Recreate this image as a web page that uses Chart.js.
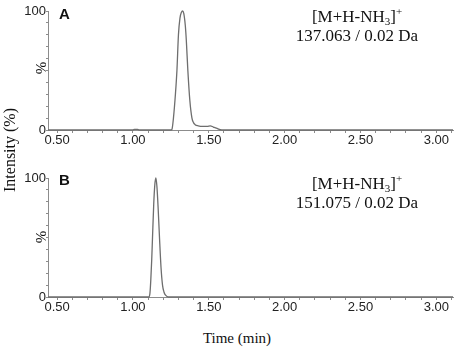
<!DOCTYPE html>
<html>
<head>
<meta charset="utf-8">
<script src="https://cdn.jsdelivr.net/npm/chart.js@4/dist/chart.umd.min.js"></script>
<style>
  body { margin: 0; background: #fff; }
  #wrap { position: relative; width: 454px; height: 350px; overflow: hidden; }
  canvas { position: absolute; left: 0; }
  .txt { position: absolute; white-space: nowrap; color: #111; }
  .serif { font-family: "Liberation Serif", "Times New Roman", serif; }
  .tag { font-family: "Liberation Sans", Arial, sans-serif; font-weight: bold; font-size: 15px; line-height: 15px; }
  .ion { font-size: 17px; line-height: 19px; text-align: center; width: 200px; }
  .ion sub { font-size: 11px; vertical-align: -3px; line-height: 0; }
  .ion sup { font-size: 11px; vertical-align: 7px; line-height: 0; }
  .rot { transform: translate(-50%, -50%) rotate(-90deg); }
</style>
</head>
<body>
<div id="wrap">
  <canvas id="chartA" width="454" height="150" style="top:0"></canvas>
  <canvas id="chartB" width="454" height="150" style="top:167px"></canvas>

  <div class="txt tag" style="left:59px; top:6px">A</div>
  <div class="txt tag" style="left:59px; top:172px">B</div>

  <div class="txt serif rot" style="left:41px; top:68px; font-size:15px">%</div>
  <div class="txt serif rot" style="left:41px; top:237px; font-size:15px">%</div>

  <div class="txt serif ion" style="left:257px; top:7px">[M+H-NH<sub>3</sub>]<sup>+</sup><br>137.063 / 0.02 Da</div>
  <div class="txt serif ion" style="left:257px; top:174px">[M+H-NH<sub>3</sub>]<sup>+</sup><br>151.075 / 0.02 Da</div>

  <div class="txt serif rot" style="left:10px; top:150px; font-size:16px">Intensity (%)</div>
  <div class="txt serif" style="left:237px; top:338px; font-size:15px; transform: translate(-50%, -50%)">Time (min)</div>
</div>

<script>
// panel A: m/z 137.063 trace
const timesA = [0.44, 1.00, 1.01, 1.03, 1.04, 1.25, 1.257, 1.267, 1.28, 1.29, 1.30, 1.31, 1.32, 1.327,
  1.335, 1.345, 1.352, 1.362, 1.375, 1.389, 1.40, 1.41, 1.43, 1.46, 1.49, 1.51, 1.53, 1.55, 1.586, 3.11];
const intensA = [0, 0, 0.6, 0.6, 0, 0, 0.5, 10, 30, 50, 80, 94, 99, 100,
  98, 88, 75, 50, 25, 10, 6, 4.5, 3.5, 3, 3, 3.5, 2.5, 1.5, 0, 0];

// panel B: m/z 151.075 trace
const timesB = [0.44, 1.105, 1.112, 1.118, 1.124, 1.129, 1.137, 1.144, 1.151, 1.158, 1.166,
  1.175, 1.185, 1.195, 1.205, 1.215, 1.234, 3.11];
const intensB = [0, 0, 3, 15, 32, 50, 78, 94, 100, 93, 75,
  50, 25, 10, 4, 1.5, 0, 0];

const xTickValues = [0.5, 1.0, 1.5, 2.0, 2.5, 3.0];
const xTickLabels = ['0.50', '1.00', '1.50', '2.00', '2.50', '3.00'];
const yTickValues = [0, 100];
const yTickLabels = ['0', '100'];

const axisGray = '#8c8c8c';
const tickFont = { family: 'Liberation Sans, Arial, sans-serif', size: 13 };

function minorTicks(from, to, step) {
  const out = [];
  for (let v = from; v <= to + 1e-9; v += step) out.push({ value: Math.round(v * 1000) / 1000 });
  return out;
}

function makeChart(id, times, values) {
  const pts = times.map((t, i) => ({ x: t, y: values[i] }));
  return new Chart(document.getElementById(id), {
    type: 'line',
    data: {
      datasets: [{
        data: pts,
        borderColor: '#6e6e6e',
        borderWidth: 1.3,
        pointRadius: 0,
        cubicInterpolationMode: 'monotone',
        fill: false,
        clip: false
      }]
    },
    options: {
      responsive: false,
      animation: false,
      devicePixelRatio: 1,
      layout: { padding: { top: 11, right: 1, left: 0, bottom: 0 } },
      plugins: { legend: { display: false }, tooltip: { enabled: false } },
      scales: {
        x: {
          type: 'linear',
          min: 0.44,
          max: 3.11,
          afterBuildTicks: s => { s.ticks = minorTicks(0.5, 3.1, 0.1); },
          afterFit: s => { s.height = 20; },
          grid: { drawOnChartArea: false, tickLength: 3, color: axisGray },
          border: { color: axisGray, width: 1 },
          ticks: {
            autoSkip: false,
            maxRotation: 0,
            padding: 0,
            color: '#222',
            font: tickFont,
            callback: v => {
              const i = xTickValues.findIndex(t => Math.abs(t - v) < 1e-6);
              return i >= 0 ? xTickLabels[i] : '';
            }
          }
        },
        y: {
          min: 0,
          max: 100,
          afterBuildTicks: s => { s.ticks = minorTicks(0, 100, 10); },
          afterFit: s => { s.width = 48; },
          grid: { drawOnChartArea: false, tickLength: 2, color: axisGray },
          border: { color: axisGray, width: 1 },
          ticks: {
            autoSkip: false,
            padding: 0,
            color: '#222',
            font: tickFont,
            callback: v => {
              const i = yTickValues.indexOf(v);
              return i >= 0 ? yTickLabels[i] : '';
            }
          }
        }
      }
    }
  });
}

makeChart('chartA', timesA, intensA);
makeChart('chartB', timesB, intensB);
</script>
</body>
</html>
